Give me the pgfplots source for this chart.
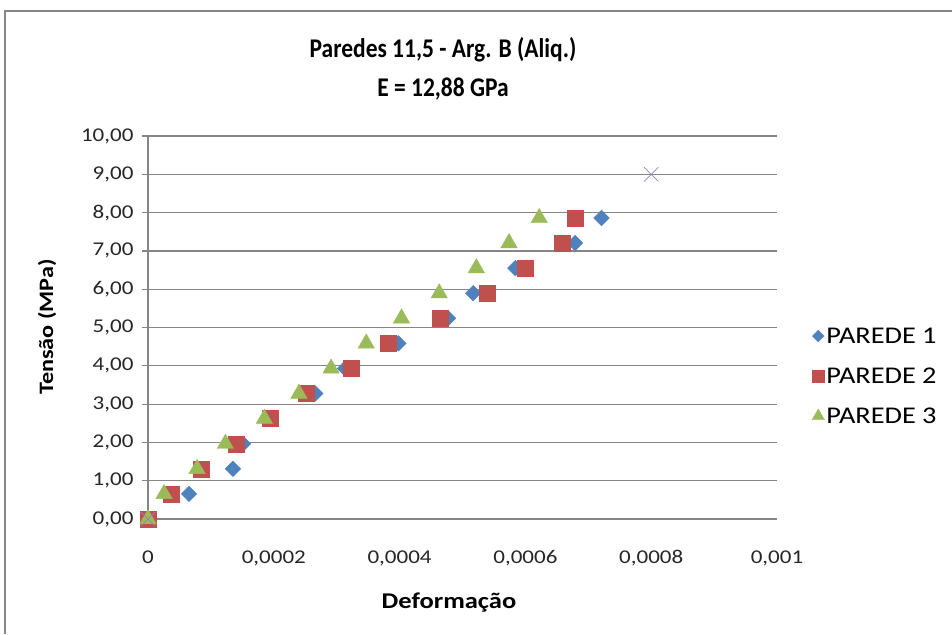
\documentclass[border=0pt]{standalone}
\usepackage{fontspec}
\setmainfont[FakeStretch=1.18]{Carlito}
\newfontfamily\titlefont[FakeStretch=0.87]{Carlito}
\usepackage{pgfplots}
\pgfplotsset{compat=1.18}
\definecolor{pA}{HTML}{4F81BD}
\definecolor{pB}{HTML}{C0504D}
\definecolor{pC}{HTML}{9BBB59}
\definecolor{pD}{HTML}{8064A2}
\definecolor{gridc}{HTML}{868686}
\begin{document}
\begin{tikzpicture}[x=1pt,y=1pt]
\useasboundingbox (0,0) rectangle (952,-634);
\draw[gridc, line width=1.5pt] (5,-634) -- (5,-11) -- (952,-11);
\node[font=\titlefont\bfseries\fontsize{27}{30}\selectfont] at (443,-50) {Paredes 11,5 - Arg. B (Aliq.)};
\node[font=\titlefont\bfseries\fontsize{27}{30}\selectfont] at (443,-89) {E = 12,88 GPa};
\node[font=\bfseries\fontsize{20.5}{22}\selectfont, rotate=90] at (47,-327) {Tensão (MPa)};
\node[font=\bfseries\fontsize{22.5}{24}\selectfont] at (449,-603) {Deformação};
\begin{axis}[
  at={(148pt,-519pt)}, anchor=south west,
  scale only axis, width=629pt, height=383pt,
  xmin=0, xmax=0.001, ymin=0, ymax=10,
  axis x line*=bottom, axis y line*=left,
  axis line style={draw=gridc, line width=1.2pt, -},
  x axis line style={draw=none},
  ymajorgrids, grid style={gridc, line width=1.2pt},
  ytick={0,1,...,10},
  yticklabels={{0,00},{1,00},{2,00},{3,00},{4,00},{5,00},{6,00},{7,00},{8,00},{9,00},{10,00}},
  xtick={0,0.0002,0.0004,0.0006,0.0008,0.001},
  xticklabels={0,{0,0002},{0,0004},{0,0006},{0,0008},{0,001}},
  scaled x ticks=false,
  tick align=outside, major tick length=6pt,
  ytick style={draw=gridc, line width=1.2pt},
  xtick style={draw=none},
  ticklabel style={font=\fontsize{19.5}{21}\selectfont, text=black!85},
  xticklabel style={yshift=-22pt},
  yticklabel style={xshift=-5pt},
  clip=false,
  legend style={at={(1.0555,0.373)}, anchor=west, draw=none, fill=none,
    font=\fontsize{24}{26}\selectfont, row sep=19pt, inner sep=0pt,
    legend cell align=left},
  legend image code/.code={\draw[#1, every mark/.append style={scale=0.75}] plot coordinates {(5pt,0pt)};},
]
\addplot[only marks, mark=square*, mark size=5.5pt, mark options={rotate=45, draw=pA, fill=pA}] coordinates {
(0,0) (0.0000652,0.655) (0.000135,1.31) (0.000151,1.965) (0.000191,2.62) (0.000266,3.275)
(0.000313,3.93) (0.000398,4.585) (0.000477,5.24) (0.000517,5.895) (0.000584,6.55)
(0.000679,7.205) (0.000721,7.86)};
\addlegendentry{PAREDE 1}
\addplot[only marks, mark=square*, mark size=8pt, mark options={draw=pB, fill=pB}] coordinates {
(0,0) (0.0000366,0.655) (0.0000843,1.31) (0.000140,1.965) (0.000194,2.62) (0.000251,3.275)
(0.000323,3.93) (0.000382,4.585) (0.000465,5.24) (0.000539,5.895) (0.000600,6.55)
(0.000659,7.205) (0.000679,7.86)};
\addlegendentry{PAREDE 2}
\addplot[only marks, mark=triangle*, mark size=9.5pt, mark options={draw=pC, fill=pC}] coordinates {
(0,0) (0.0000255,0.655) (0.000078,1.31) (0.000123,1.965) (0.000185,2.62) (0.000240,3.275)
(0.000291,3.93) (0.000347,4.585) (0.000403,5.24) (0.000463,5.895) (0.000522,6.55)
(0.000574,7.205) (0.000622,7.86)};
\addlegendentry{PAREDE 3}
\addplot[only marks, forget plot, mark=x, mark size=10pt, mark options={draw=pD!80, line width=0.7pt}] coordinates {
(0,0) (0.0008,9)};
\end{axis}
\end{tikzpicture}
\end{document}
